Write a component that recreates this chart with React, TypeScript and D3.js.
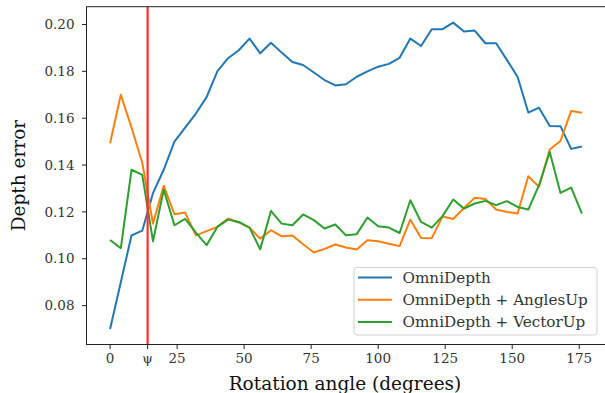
import React, { useEffect, useRef } from 'react';
import * as d3 from 'd3';

// rotation angles (degrees)
const angles = [0, 4, 8, 12, 16, 20, 24, 28, 32, 36, 40, 44, 48, 52, 56, 60, 64, 68, 72, 76, 80, 84, 88,
  92, 96, 100, 104, 108, 112, 116, 120, 124, 128, 132, 136, 140, 144, 148, 152, 156, 160, 164, 168, 172, 176];

const omniDepth = [0.070, 0.090, 0.110, 0.112, 0.128, 0.138, 0.150, 0.156, 0.162, 0.169, 0.180, 0.1856, 0.189,
  0.194, 0.1877, 0.1922, 0.188, 0.184, 0.1827, 0.1795, 0.1763, 0.174, 0.1745, 0.1777, 0.180, 0.182, 0.1832,
  0.1858, 0.194, 0.1908, 0.198, 0.198, 0.2008, 0.197, 0.1974, 0.192, 0.192, 0.1849, 0.1777, 0.1624, 0.1645,
  0.1567, 0.1566, 0.1469, 0.1479];

const anglesUp = [0.1493, 0.170, 0.156, 0.141, 0.115, 0.1312, 0.119, 0.1197, 0.110, 0.1118, 0.1136, 0.1172,
  0.1155, 0.1133, 0.1086, 0.1122, 0.1096, 0.1099, 0.1062, 0.1027, 0.1042, 0.1061, 0.1048, 0.104, 0.1079,
  0.1075, 0.1064, 0.1054, 0.1167, 0.1089, 0.1088, 0.118, 0.117, 0.1217, 0.126, 0.1255, 0.121, 0.120, 0.1193,
  0.1352, 0.1307, 0.1466, 0.1503, 0.1631, 0.1623];

const vectorUp = [0.108, 0.1045, 0.138, 0.1358, 0.1075, 0.1295, 0.1143, 0.117, 0.1112, 0.1058, 0.1136, 0.1167,
  0.1157, 0.1133, 0.104, 0.1204, 0.115, 0.1143, 0.1189, 0.1165, 0.1129, 0.1146, 0.110, 0.1105, 0.1176, 0.1139,
  0.1133, 0.111, 0.125, 0.1157, 0.1133, 0.1182, 0.1253, 0.1214, 0.1236, 0.1247, 0.1229, 0.1246, 0.1221, 0.121,
  0.1314, 0.1456, 0.1281, 0.1304, 0.1193];

const psi = 14;
const xTicks = [0, psi, 25, 50, 75, 100, 125, 150, 175];
const xTickLabels = ['0', 'ψ', '25', '50', '75', '100', '125', '150', '175'];
const yTicks = [0.08, 0.10, 0.12, 0.14, 0.16, 0.18, 0.20];

const seriesNames = ['OmniDepth', 'OmniDepth + AnglesUp', 'OmniDepth + VectorUp'];
const seriesColors = ['#1f77b4', '#ff7f0e', '#2ca02c'];

const W = 605, H = 393;
const left = 86.5, right = 605.5, top = 6.7, bottom = 344.5;
const font = 'DejaVu Serif, serif';

export default function App() {
  const ref = useRef<SVGSVGElement>(null);

  useEffect(() => {
    const svg = d3.select(ref.current);
    svg.selectAll('*').remove();

    const x = d3.scaleLinear().domain([-8.8, 184.8]).range([left, right]);
    const y = d3.scaleLinear().domain([0.0634, 0.2076]).range([bottom, top]);

    svg.append('rect').attr('width', W).attr('height', H).attr('fill', '#fff');

    const line = d3.line<number>()
      .x((d, i) => x(angles[i]))
      .y(d => y(d));

    [omniDepth, anglesUp, vectorUp].forEach((s, k) => {
      svg.append('path')
        .attr('d', line(s))
        .attr('fill', 'none')
        .attr('stroke', seriesColors[k])
        .attr('stroke-width', 2)
        .attr('stroke-linejoin', 'round');
    });

    // psi marker
    svg.append('line')
      .attr('x1', x(psi)).attr('x2', x(psi))
      .attr('y1', top).attr('y2', bottom)
      .attr('stroke', '#ff3030')
      .attr('stroke-width', 2.2);

    // frame
    svg.append('rect')
      .attr('x', left).attr('y', top)
      .attr('width', right - left).attr('height', bottom - top)
      .attr('fill', 'none').attr('stroke', '#222').attr('stroke-width', 1);

    // x axis
    const xa = svg.append('g');
    xTicks.forEach((t, i) => {
      xa.append('line')
        .attr('x1', x(t)).attr('x2', x(t))
        .attr('y1', bottom).attr('y2', bottom + 4.5)
        .attr('stroke', '#222').attr('stroke-width', 1);
      xa.append('text')
        .attr('x', x(t)).attr('y', bottom + 18)
        .attr('text-anchor', 'middle')
        .attr('font-family', font).attr('font-size', 13.5)
        .attr('fill', '#333')
        .text(xTickLabels[i]);
    });
    xa.append('text')
      .attr('x', 345).attr('y', 389.5)
      .attr('text-anchor', 'middle')
      .attr('font-family', font).attr('font-size', 18.5)
      .attr('fill', '#111')
      .text('Rotation angle (degrees)');

    // y axis
    const ya = svg.append('g');
    yTicks.forEach(t => {
      ya.append('line')
        .attr('x1', left - 4.5).attr('x2', left)
        .attr('y1', y(t)).attr('y2', y(t))
        .attr('stroke', '#222').attr('stroke-width', 1);
      ya.append('text')
        .attr('x', left - 12).attr('y', y(t) + 4.7)
        .attr('text-anchor', 'end')
        .attr('font-family', font).attr('font-size', 13.5)
        .attr('fill', '#333')
        .text(t.toFixed(2));
    });
    ya.append('text')
      .attr('transform', `translate(25,${(top + bottom) / 2}) rotate(-90)`)
      .attr('text-anchor', 'middle')
      .attr('font-family', font).attr('font-size', 18.5)
      .attr('fill', '#111')
      .text('Depth error');

    // legend
    const lg = svg.append('g');
    lg.append('rect')
      .attr('x', 354).attr('y', 267.5)
      .attr('width', 243).attr('height', 67.5)
      .attr('rx', 3)
      .attr('fill', '#fff').attr('fill-opacity', 0.8)
      .attr('stroke', '#d0d0d0').attr('stroke-width', 1);
    seriesNames.forEach((n, k) => {
      const ly = 277.5 + k * 22.2;
      lg.append('line')
        .attr('x1', 358).attr('x2', 392)
        .attr('y1', ly).attr('y2', ly)
        .attr('stroke', seriesColors[k]).attr('stroke-width', 2);
      lg.append('text')
        .attr('x', 402.5).attr('y', ly + 5.4)
        .attr('font-family', font).attr('font-size', 15.2)
        .attr('fill', '#333')
        .text(n);
    });
  }, []);

  return (
    <svg ref={ref} width={W} height={H}
      style={{ position: 'absolute', left: 0, top: 0 }} />
  );
}
